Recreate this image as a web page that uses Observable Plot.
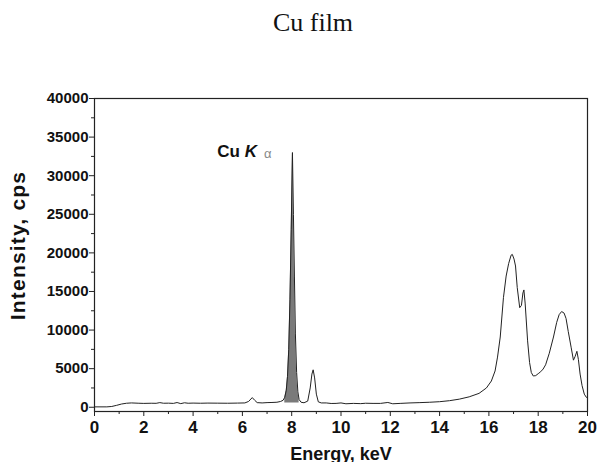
<!DOCTYPE html>
<html>
<head>
<meta charset="utf-8">
<script src="https://cdn.jsdelivr.net/npm/d3@7"></script>
<script src="https://cdn.jsdelivr.net/npm/@observablehq/plot@0.6"></script>
<style>
  html, body { margin: 0; padding: 0; background: #fff; }
  #title {
    height: 40px; padding-top: 10px; padding-left: 26px; box-sizing: content-box;
    text-align: center; font-family: "Liberation Serif", "Times New Roman", serif;
    font-size: 26px; line-height: 26px; color: #111; width: 574px;
  }
  #chart svg text { font-weight: bold; }
</style>
</head>
<body>
<div id="title">Cu film</div>
<div id="chart"></div>
<script>
// Energy (keV) and intensity (cps)
const energy = [
  0, 0.5, 0.7, 0.9, 1.1, 1.3, 1.5, 1.8, 2.0, 2.3, 2.5, 2.65, 2.8, 3.0, 3.2, 3.35, 3.5, 3.65, 3.8, 4.0,
  4.3, 4.6, 5.0, 5.4, 5.8, 6.1, 6.25, 6.4, 6.5, 6.6, 6.8, 7.0, 7.2, 7.4, 7.55, 7.65, 7.72, 7.78, 7.83, 7.88,
  7.93, 7.98, 8.03, 8.07, 8.11, 8.15, 8.2, 8.25, 8.3, 8.38, 8.5, 8.65, 8.75, 8.82, 8.87, 8.93, 9.0, 9.08, 9.2, 9.4,
  9.6, 9.8, 10.0, 10.2, 10.5, 10.8, 11.0, 11.3, 11.6, 11.9, 12.1, 12.4, 12.8, 13.2, 13.6, 14.0, 14.4, 14.8, 15.2, 15.6,
  15.9, 16.1, 16.25, 16.35, 16.46, 16.59, 16.7, 16.8, 16.9, 16.95, 17.02, 17.08, 17.15, 17.25, 17.32, 17.38, 17.42, 17.47, 17.57, 17.65,
  17.72, 17.8, 17.9, 18.0, 18.1, 18.2, 18.3, 18.45, 18.62, 18.75, 18.85, 18.95, 19.05, 19.13, 19.22, 19.34, 19.43, 19.5, 19.57, 19.63,
  19.7, 19.78, 19.87, 19.95, 20.0
];
const intensity = [
  50, 50, 100, 250, 420, 520, 560, 520, 500, 520, 510, 600, 520, 530, 500, 610, 470, 580, 520, 540,
  520, 540, 530, 520, 540, 560, 750, 1250, 900, 600, 560, 600, 620, 650, 750, 900, 1300, 2200, 4000, 7500,
  14000, 23000, 33000, 25000, 17000, 9500, 4500, 2000, 1000, 650, 580, 800, 2500, 4300, 4850, 3800, 1700, 700, 560, 560,
  490, 500, 560, 450, 500, 470, 520, 500, 500, 620, 450, 500, 560, 600, 650, 720, 850, 1050, 1350, 1800,
  2500, 3400, 4700, 6500, 9100, 14200, 17000, 18600, 19700, 19800, 19200, 18300, 15500, 12900, 13200, 14800, 15200, 13500, 8600, 5800,
  4500, 4050, 4100, 4350, 4600, 4950, 5500, 7000, 9100, 11000, 12000, 12400, 12200, 11500, 9800, 7700, 6100, 6600, 7250, 6200,
  4300, 2800, 1700, 1300, 1200
];
// Shaded Cu K-alpha peak range (keV) and its base level (cps)
const kaRange = [7.70, 8.30];
const kaBase = 550;
// Tick values
const xMajor = [0, 2, 4, 6, 8, 10, 12, 14, 16, 18, 20];
const xMinor = [1, 3, 5, 7, 9, 11, 13, 15, 17, 19];
const yMajor = [0, 5000, 10000, 15000, 20000, 25000, 30000, 35000, 40000];
const yMinor = [2500, 7500, 12500, 17500, 22500, 27500, 32500, 37500];
// Annotation
const annotation = [{e: 4.98, v: 32400, label: "Cu Kα"}];

const data = energy.map((e, i) => ({e, v: intensity[i]}));
const kaData = data.filter(d => d.e >= kaRange[0] && d.e <= kaRange[1]);

const font = "'Liberation Sans', Arial, sans-serif";

const plot = Plot.plot({
  width: 600,
  height: 412,
  marginLeft: 94,
  marginRight: 13,
  marginTop: 48,
  marginBottom: 51,
  style: {fontFamily: font, fontSize: "15px", color: "#111", background: "#fff"},
  x: {domain: [0, 20]},
  y: {domain: [-550, 40000]},
  marks: [
    Plot.areaY(kaData, {x: "e", y1: kaBase, y2: "v", fill: "#7a7a7a"}),
    Plot.lineY(data, {x: "e", y: "v", stroke: "#222", strokeWidth: 1}),
    Plot.frame({stroke: "#222", strokeWidth: 1.2}),
    Plot.axisX({ticks: xMajor, tickSize: 5, tickPadding: 4, label: null, fontSize: 17, fontWeight: "bold", tickFormat: d => String(d), stroke: "#222"}),
    Plot.axisX({ticks: xMinor, tickSize: 3, label: null, tickFormat: null, text: null, stroke: "#222"}),
    Plot.axisY({ticks: yMajor, tickSize: 5, tickPadding: 1, label: null, fontSize: 15, fontWeight: "bold", tickFormat: d => String(d), stroke: "#222"}),
    Plot.axisY({ticks: yMinor, tickSize: 3, label: null, tickFormat: null, text: null, stroke: "#222"}),
    Plot.text(["Energy, keV"], {frameAnchor: "bottom", dy: 48, lineAnchor: "bottom", fontSize: 18, fontWeight: "bold", fill: "#111"}),
    Plot.text(["Intensity, cps"], {frameAnchor: "left", fontSize: 21, fontWeight: "bold", fill: "#111"}),
    Plot.text(annotation, {x: "e", y: "v", text: "label", textAnchor: "start", lineAnchor: "bottom", fontSize: 17, fontWeight: "bold", fill: "#111"})
  ]
});

document.getElementById("chart").appendChild(plot);

const svgNS = "http://www.w3.org/2000/svg";
const texts = [...plot.querySelectorAll("text")];

// Y tick labels slightly wide, as in the reference
texts.filter(n => /^\d{4,5}$|^0$/.test(n.textContent) && n.getAttribute("text-anchor") === "end")
  .forEach(n => n.setAttribute("letter-spacing", "0.6"));

// Rotated y-axis label placed beside the axis
const yl = texts.find(n => n.textContent === "Intensity, cps");
if (yl) {
  yl.removeAttribute("x");
  yl.removeAttribute("y");
  yl.removeAttribute("dy");
  yl.setAttribute("text-anchor", "middle");
  yl.setAttribute("letter-spacing", "1.2");
  yl.setAttribute("transform", "translate(24,195) rotate(-90)");
}

// Rich formatting of the annotation: "Cu " bold, "K" bold italic, subscript alpha
const t = texts.find(n => n.textContent === "Cu Kα");
if (t) {
  t.textContent = "";
  const s1 = document.createElementNS(svgNS, "tspan");
  s1.textContent = "Cu ";
  const s2 = document.createElementNS(svgNS, "tspan");
  s2.textContent = "K";
  s2.setAttribute("font-style", "italic");
  const s3 = document.createElementNS(svgNS, "tspan");
  s3.textContent = "α";
  s3.setAttribute("font-size", "13");
  s3.setAttribute("font-weight", "normal");
  s3.setAttribute("fill", "#888");
  s3.setAttribute("dx", "7");
  s3.setAttribute("dy", "1");
  t.append(s1, s2, s3);
}
</script>
</body>
</html>
